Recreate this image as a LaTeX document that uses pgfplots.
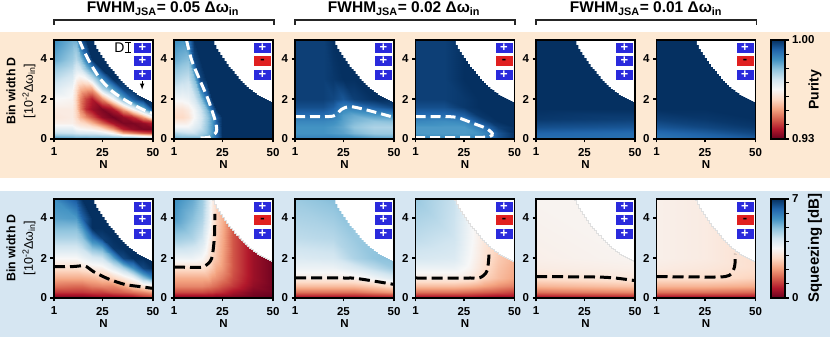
\documentclass[border=0pt]{standalone}
\usepackage{fontspec}
\setmainfont{Liberation Sans}
\usepackage{pgfplots}
\usepackage{pgfplotstable}
\pgfplotsset{compat=1.18}
\definecolor{bgo}{RGB}{253,233,211}
\definecolor{bgb}{RGB}{214,230,242}
\definecolor{bb}{RGB}{42,42,220}
\definecolor{br}{RGB}{224,32,32}
\pgfplotsset{colormap={rdbu}{rgb255=(103,0,31) rgb255=(178,24,43) rgb255=(214,96,77) rgb255=(244,165,130) rgb255=(253,219,199) rgb255=(247,247,247) rgb255=(209,229,240) rgb255=(146,197,222) rgb255=(67,147,195) rgb255=(33,102,172) rgb255=(5,48,97)}}
\newcommand{\fs}[1]{\fontsize{#1}{#1}\selectfont}
\pgfplotsset{
  hm/.style={scale only axis,width=99pt,height=99pt,anchor=south west,
    xmin=1,xmax=50,ymin=0,ymax=4.95,
    xtick={1,25,50},xticklabels={1,25,50},ytick={0,2,4},yticklabels={0,2,4},
    tick align=outside,xtick pos=bottom,ytick pos=left,major tick length=3.5pt,
    tick style={black,line width=1.1pt},axis line style={line width=1.4pt},
    axis on top,colormap name=rdbu,
    tick label style={font=\fs{11.5}\bfseries},
    xticklabel style={yshift=-2pt},
    xlabel={N},xlabel style={font=\fs{11.5}\bfseries,yshift=2pt}},
  pur/.style={hm,point meta min=0.93,point meta max=1},
  sqz/.style={hm,point meta min=0,point meta max=7},
  wd/.style={white,line width=3pt,dash pattern=on 10pt off 5pt,smooth},
  kd/.style={black,line width=3pt,dash pattern=on 11pt off 5pt,smooth}}
\tikzset{badge/.style={minimum width=17pt,minimum height=10pt,inner sep=0pt,font=\fs{13}\bfseries}}
\newcommand{\hmap}[2]{\addplot[surf,shader=interp,mesh/cols=#2,point meta=explicit] table[x=N,y=D,meta=c]{#1};}
\newcommand{\whitep}{\addplot[fill=white,draw=none,const plot] table {\bnd} -- cycle;}
\newcommand{\whiteg}{\addplot[fill=white,draw=black!12,line width=0.3pt,const plot] table {\bnd} -- cycle;}
\newcommand{\bdgp}{%
  \node[badge,fill=bb,text=white] at (rel axis cs:0.894,0.924) {+};
  \node[badge,fill=bb,text=white] at (rel axis cs:0.894,0.788) {+};
  \node[badge,fill=bb,text=white] at (rel axis cs:0.894,0.646) {+};}
\newcommand{\bdgm}{%
  \node[badge,fill=bb,text=white] at (rel axis cs:0.894,0.924) {+};
  \node[badge,fill=br,text=black] at (rel axis cs:0.894,0.788) {-};
  \node[badge,fill=bb,text=white] at (rel axis cs:0.894,0.646) {+};}

% white corner, the same in every panel
\pgfplotstableread{
N D
19.5 5.2
20 4.9
21 4.7
22 4.5
23 4.35
24 4.2
25 4.05
26 3.9
27 3.75
28 3.6
29 3.5
30 3.4
31 3.25
32 3.15
33 3.0
34 2.9
35 2.8
36 2.7
37 2.6
38 2.5
39 2.45
40 2.35
41 2.3
42 2.2
43 2.15
44 2.1
45 2.05
46 2
47 1.95
48 1.9
49 1.85
50 1.78
51 1.7
51 5.2
}\bnd

% purity, FWHM 0.05, +++
\pgfplotstableread[row sep=\\]{N D c\\
1 0 .987\\10 0 .987\\12 0 .987\\14 0 .987\\17 0 .987\\20 0 .987\\25 0 .987\\30 0 .987\\35 0 .987\\40 0 .987\\45 0 .987\\50 0 .985\\
1 .1 .983\\10 .1 .982\\12 .1 .981\\14 .1 .981\\17 .1 .981\\20 .1 .98\\25 .1 .98\\30 .1 .979\\35 .1 .977\\40 .1 .976\\45 .1 .972\\50 .1 .969\\
1 .3 .974\\10 .3 .973\\12 .3 .972\\14 .3 .971\\17 .3 .971\\20 .3 .971\\25 .3 .969\\30 .3 .964\\35 .3 .952\\40 .3 .948\\45 .3 .944\\50 .3 .942\\
1 .5 .969\\10 .5 .969\\12 .5 .966\\14 .5 .965\\17 .5 .964\\20 .5 .963\\25 .5 .959\\30 .5 .95\\35 .5 .938\\40 .5 .934\\45 .5 .932\\50 .5 .932\\
1 .8 .963\\10 .8 .963\\12 .8 .961\\14 .8 .959\\17 .8 .957\\20 .8 .953\\25 .8 .945\\30 .8 .936\\35 .8 .932\\40 .8 .932\\45 .8 .934\\50 .8 .938\\
1 1.1 .961\\10 1.1 .962\\12 1.1 .958\\14 1.1 .953\\17 1.1 .948\\20 1.1 .943\\25 1.1 .934\\30 1.1 .931\\35 1.1 .934\\40 1.1 .939\\45 1.1 .95\\50 1.1 .965\\
1 1.5 .962\\10 1.5 .962\\12 1.5 .957\\14 1.5 .948\\17 1.5 .939\\20 1.5 .935\\25 1.5 .932\\30 1.5 .937\\35 1.5 .951\\40 1.5 .965\\45 1.5 .98\\50 1.5 .997\\
1 2 .965\\10 2 .964\\12 2 .957\\14 2 .948\\17 2 .941\\20 2 .937\\25 2 .948\\30 2 .965\\35 2 .983\\40 2 .994\\45 2 1\\50 2 1\\
1 2.5 .97\\10 2.5 .966\\12 2.5 .959\\14 2.5 .953\\17 2.5 .951\\20 2.5 .951\\25 2.5 .974\\30 2.5 .985\\35 2.5 .997\\40 2.5 1\\45 2.5 1\\50 2.5 1\\
1 3 .974\\10 3 .97\\12 3 .964\\14 3 .962\\17 3 .964\\20 3 .972\\25 3 .987\\30 3 1\\35 3 1\\40 3 1\\45 3 1\\50 3 1\\
1 3.5 .978\\10 3.5 .974\\12 3.5 .97\\14 3.5 .971\\17 3.5 .979\\20 3.5 .987\\25 3.5 1\\30 3.5 1\\35 3.5 1\\40 3.5 1\\45 3.5 1\\50 3.5 1\\
1 4 .983\\10 4 .978\\12 4 .975\\14 4 .979\\17 4 .99\\20 4 1\\25 4 1\\30 4 1\\35 4 1\\40 4 1\\45 4 1\\50 4 1\\
1 4.95 .987\\10 4.95 .982\\12 4.95 .982\\14 4.95 .995\\17 4.95 1\\20 4.95 1\\25 4.95 1\\30 4.95 1\\35 4.95 1\\40 4.95 1\\45 4.95 1\\50 4.95 1\\
}\pa
% purity, FWHM 0.05, +-+
\pgfplotstableread[row sep=\\]{N D c\\
1 0 .986\\5 0 .986\\8 0 .986\\11 0 .986\\14 0 .986\\17 0 .986\\20 0 .99\\22 0 .993\\25 0 1\\50 0 1\\
1 .1 .981\\5 .1 .98\\8 .1 .98\\11 .1 .98\\14 .1 .98\\17 .1 .983\\20 .1 .987\\22 .1 .992\\25 .1 1\\50 .1 1\\
1 .3 .976\\5 .3 .974\\8 .3 .973\\11 .3 .973\\14 .3 .976\\17 .3 .979\\20 .3 .985\\22 .3 .992\\25 .3 1\\50 .3 1\\
1 .6 .966\\5 .6 .966\\8 .6 .966\\11 .6 .969\\14 .6 .972\\17 .6 .978\\20 .6 .985\\22 .6 .992\\25 .6 1\\50 .6 1\\
1 1.1 .958\\5 1.1 .958\\8 1.1 .96\\11 1.1 .965\\14 1.1 .97\\17 1.1 .977\\20 1.1 .985\\22 1.1 .994\\25 1.1 1\\50 1.1 1\\
1 1.5 .96\\5 1.5 .96\\8 1.5 .962\\11 1.5 .966\\14 1.5 .972\\17 1.5 .98\\20 1.5 .993\\22 1.5 1\\25 1.5 1\\50 1.5 1\\
1 2 .966\\5 2 .966\\8 2 .967\\11 2 .971\\14 2 .978\\17 2 .99\\20 2 1\\22 2 1\\25 2 1\\50 2 1\\
1 3 .976\\5 3 .974\\8 3 .973\\11 3 .98\\14 3 .997\\17 3 1\\20 3 1\\22 3 1\\25 3 1\\50 3 1\\
1 4 .983\\5 4 .981\\8 4 .98\\11 4 .997\\14 4 1\\17 4 1\\20 4 1\\22 4 1\\25 4 1\\50 4 1\\
1 4.95 .987\\5 4.95 .986\\8 4.95 .99\\11 4.95 1\\14 4.95 1\\17 4.95 1\\20 4.95 1\\22 4.95 1\\25 4.95 1\\50 4.95 1\\
}\pb
% purity, FWHM 0.02, +++
\pgfplotstableread[row sep=\\]{N D c\\
1 0 .991\\15 0 .991\\20 0 .991\\25 0 .991\\30 0 .991\\40 0 .99\\50 0 .988\\
1 .1 .988\\15 .1 .988\\20 .1 .988\\25 .1 .987\\30 .1 .986\\40 .1 .983\\50 .1 .982\\
1 .3 .986\\15 .3 .986\\20 .3 .985\\25 .3 .984\\30 .3 .981\\40 .3 .978\\50 .3 .978\\
1 .6 .986\\15 .6 .986\\20 .6 .985\\25 .6 .983\\30 .6 .979\\40 .6 .976\\50 .6 .976\\
1 .9 .988\\15 .9 .988\\20 .9 .987\\25 .9 .984\\30 .9 .981\\40 .9 .979\\50 .9 .98\\
1 1.2 .992\\15 1.2 .992\\20 1.2 .99\\25 1.2 .985\\30 1.2 .983\\40 1.2 .985\\50 1.2 .987\\
1 1.6 .996\\15 1.6 .996\\20 1.6 .994\\25 1.6 .989\\30 1.6 .99\\40 1.6 .994\\50 1.6 .997\\
1 2 .998\\15 2 .998\\20 2 .997\\25 2 .995\\30 2 .998\\40 2 1\\50 2 1\\
1 3 .998\\15 3 .998\\20 3 .999\\25 3 1\\30 3 1\\40 3 1\\50 3 1\\
1 4.95 .998\\15 4.95 .998\\20 4.95 1\\25 4.95 1\\30 4.95 1\\40 4.95 1\\50 4.95 1\\
}\pc
% purity, FWHM 0.02, +-+
\pgfplotstableread[row sep=\\]{N D c\\
1 0 .992\\15 0 .992\\25 0 .992\\32 0 .993\\38 0 .995\\42 0 .997\\50 0 1\\
1 .1 .988\\15 .1 .987\\25 .1 .987\\32 .1 .988\\38 .1 .991\\42 .1 .995\\50 .1 1\\
1 .3 .985\\15 .3 .985\\25 .3 .985\\32 .3 .986\\38 .3 .99\\42 .3 .995\\50 .3 1\\
1 .6 .985\\15 .6 .985\\25 .6 .985\\32 .6 .989\\38 .6 .994\\42 .6 .998\\50 .6 1\\
1 .9 .988\\15 .9 .987\\25 .9 .988\\32 .9 .995\\38 .9 .999\\42 .9 1\\50 .9 1\\
1 1.2 .992\\15 1.2 .992\\25 1.2 .994\\32 1.2 .999\\38 1.2 1\\42 1.2 1\\50 1.2 1\\
1 1.6 .996\\15 1.6 .996\\25 1.6 .999\\32 1.6 1\\38 1.6 1\\42 1.6 1\\50 1.6 1\\
1 2 .998\\15 2 .998\\25 2 .999\\32 2 1\\38 2 1\\42 2 1\\50 2 1\\
1 3 .998\\15 3 .998\\25 3 1\\32 3 1\\38 3 1\\42 3 1\\50 3 1\\
1 4.95 .998\\15 4.95 .998\\25 4.95 1\\32 4.95 1\\38 4.95 1\\42 4.95 1\\50 4.95 1\\
}\pd
% purity, FWHM 0.01, +++
\pgfplotstableread[row sep=\\]{N D c\\
1 0 .991\\50 0 .991\\
1 .3 .993\\50 .3 .992\\
1 .6 .996\\50 .6 .995\\
1 1 .999\\50 1 .998\\
1 1.5 1\\50 1.5 1\\
1 4.95 1\\50 4.95 1\\
}\pe
% purity, FWHM 0.01, +-+
\pgfplotstableread[row sep=\\]{N D c\\
1 0 .99\\25 0 .992\\50 0 .994\\
1 .3 .992\\25 .3 .994\\50 .3 .997\\
1 .6 .995\\25 .6 .997\\50 .6 .999\\
1 1 .998\\25 1 .999\\50 1 1\\
1 1.5 1\\25 1.5 1\\50 1.5 1\\
1 4.95 1\\25 4.95 1\\50 4.95 1\\
}\pf
% squeezing, FWHM 0.05, +++
\pgfplotstableread[row sep=\\]{N D c\\
1 0 .1\\12 0 .1\\15 0 .1\\20 0 .1\\25 0 .2\\30 0 .3\\35 0 .4\\40 0 .5\\45 0 .6\\50 0 .8\\
1 .1 .4\\12 .1 .4\\15 .1 .4\\20 .1 .5\\25 .1 .6\\30 .1 .6\\35 .1 .7\\40 .1 .8\\45 .1 1.1\\50 .1 1.3\\
1 .3 1\\12 .3 1\\15 .3 1\\20 .3 1.1\\25 .3 1.1\\30 .3 1.3\\35 .3 1.4\\40 .3 1.6\\45 .3 1.8\\50 .3 2.1\\
1 .6 1.6\\12 .6 1.5\\15 .6 1.5\\20 .6 1.7\\25 .6 1.8\\30 .6 1.8\\35 .6 2.1\\40 .6 2.6\\45 .6 3\\50 .6 3.3\\
1 1 2.2\\12 1 2.2\\15 1 2.2\\20 1 2.3\\25 1 2.5\\30 1 2.7\\35 1 3.1\\40 1 3.6\\45 1 4.8\\50 1 5.7\\
1 1.5 2.9\\12 1.5 2.9\\15 1.5 3\\20 1.5 3.2\\25 1.5 3.3\\30 1.5 3.9\\35 1.5 4.6\\40 1.5 5.6\\45 1.5 6.7\\50 1.5 7\\
1 2 3.5\\12 2 3.5\\15 2 3.7\\20 2 4\\25 2 4.2\\30 2 5.3\\35 2 6.7\\40 2 7\\45 2 7\\50 2 7\\
1 2.5 4.1\\12 2.5 4.1\\15 2.5 4.3\\20 2.5 5\\25 2.5 5.3\\30 2.5 6.9\\35 2.5 7\\40 2.5 7\\45 2.5 7\\50 2.5 7\\
1 3 4.6\\12 3 4.6\\15 3 4.9\\20 3 6\\25 3 6.8\\30 3 7\\35 3 7\\40 3 7\\45 3 7\\50 3 7\\
1 3.5 5\\12 3.5 5\\15 3.5 5.5\\20 3.5 7\\25 3.5 7\\30 3.5 7\\35 3.5 7\\40 3.5 7\\45 3.5 7\\50 3.5 7\\
1 4 5.4\\12 4 5.5\\15 4 6.3\\20 4 7\\25 4 7\\30 4 7\\35 4 7\\40 4 7\\45 4 7\\50 4 7\\
1 4.95 5.7\\12 4.95 6.5\\15 4.95 7\\20 4.95 7\\25 4.95 7\\30 4.95 7\\35 4.95 7\\40 4.95 7\\45 4.95 7\\50 4.95 7\\
}\sa
% squeezing, FWHM 0.05, +-+
\pgfplotstableread[row sep=\\]{N D c\\
1 0 .2\\10 0 .2\\15 0 .2\\18 0 .2\\20 0 .2\\22 0 .2\\25 0 .2\\30 0 .1\\40 0 0\\50 0 0\\
1 .1 .5\\10 .1 .5\\15 .1 .5\\18 .1 .5\\20 .1 .5\\22 .1 .4\\25 .1 .4\\30 .1 .3\\40 .1 .1\\50 .1 0\\
1 .3 1.2\\10 .3 1.2\\15 .3 1.2\\18 .3 1.1\\20 .3 1.1\\22 .3 1\\25 .3 .9\\30 .3 .6\\40 .3 .2\\50 .3 .1\\
1 .6 1.8\\10 .6 1.8\\15 .6 1.8\\18 .6 1.7\\20 .6 1.6\\22 .6 1.5\\25 .6 1.3\\30 .6 1\\40 .6 .4\\50 .6 .1\\
1 1 2.2\\10 1 2.2\\15 1 2.2\\18 1 2.2\\20 1 2\\22 1 1.9\\25 1 1.7\\30 1 1.2\\40 1 .5\\50 1 .1\\
1 1.5 2.9\\10 1.5 2.9\\15 1.5 2.9\\18 1.5 2.7\\20 1.5 2.5\\22 1.5 2.2\\25 1.5 2\\30 1.5 1.3\\40 1.5 .5\\50 1.5 .1\\
1 2 3.7\\10 2 3.7\\15 2 3.5\\18 2 3.1\\20 2 2.7\\22 2 2.5\\25 2 2.1\\30 2 1.3\\40 2 .5\\50 2 .1\\
1 3 4.8\\10 3 4.6\\15 3 4.2\\18 3 3.5\\20 3 3\\22 3 2.6\\25 3 2.2\\30 3 1.3\\40 3 .5\\50 3 .1\\
1 4 5.5\\10 4 5\\15 4 4.6\\18 4 3.9\\20 4 3.2\\22 4 2.7\\25 4 2.3\\30 4 1.3\\40 4 .5\\50 4 .1\\
1 4.95 5.7\\10 4.95 5.3\\15 4.95 4.8\\18 4.95 4\\20 4.95 3.3\\22 4.95 2.7\\25 4.95 2.3\\30 4.95 1.3\\40 4.95 .5\\50 4.95 .1\\
}\sb
% squeezing, FWHM 0.02, +++
\pgfplotstableread[row sep=\\]{N D c\\
1 0 .3\\20 0 .3\\30 0 .3\\40 0 .4\\50 0 .6\\
1 .1 .8\\20 .1 .8\\30 .1 .8\\40 .1 .9\\50 .1 1\\
1 .3 1.6\\20 .3 1.6\\30 .3 1.6\\40 .3 1.8\\50 .3 2\\
1 .6 2.4\\20 .6 2.4\\30 .6 2.4\\40 .6 2.6\\50 .6 2.9\\
1 1 3.2\\20 1 3.2\\30 1 3.3\\40 1 3.6\\50 1 4\\
1 1.5 3.7\\20 1.5 3.7\\30 1.5 4\\40 1.5 4.4\\50 1.5 4.8\\
1 2 4\\20 2 4.1\\30 2 4.6\\40 2 4.9\\50 2 5\\
1 3 4.4\\20 3 4.5\\30 3 4.8\\40 3 4.9\\50 3 4.9\\
1 4.95 4.8\\20 4.95 5\\30 4.95 4.9\\40 4.95 4.9\\50 4.95 4.9\\
}\scc
% squeezing, FWHM 0.02, +-+
\pgfplotstableread[row sep=\\]{N D c\\
1 0 .3\\20 0 .3\\28 0 .3\\35 0 .3\\42 0 .3\\50 0 .2\\
1 .1 .8\\20 .1 .8\\28 .1 .8\\35 .1 .7\\42 .1 .6\\50 .1 .6\\
1 .3 1.6\\20 .3 1.6\\28 .3 1.5\\35 .3 1.4\\42 .3 1.3\\50 .3 1.1\\
1 .6 2.4\\20 .6 2.4\\28 .6 2.3\\35 .6 2.1\\42 .6 1.9\\50 .6 1.7\\
1 1 3.2\\20 1 3.2\\28 1 3.1\\35 1 2.7\\42 1 2.4\\50 1 2.1\\
1 1.5 3.7\\20 1.5 3.7\\28 1.5 3.4\\35 1.5 2.9\\42 1.5 2.5\\50 1.5 2.2\\
1 2 4.1\\20 2 4\\28 2 3.5\\35 2 3\\42 2 2.6\\50 2 2.3\\
1 3 4.4\\20 3 4.2\\28 3 3.6\\35 3 3.1\\42 3 2.7\\50 3 2.4\\
1 4.95 4.8\\20 4.95 4.3\\28 4.95 3.6\\35 4.95 3.1\\42 4.95 2.7\\50 4.95 2.4\\
}\sd
% squeezing, FWHM 0.01, +++
\pgfplotstableread[row sep=\\]{N D c\\
1 0 .4\\50 0 .5\\
1 .1 .8\\50 .1 1\\
1 .3 1.6\\50 .3 1.8\\
1 .6 2.3\\50 .6 2.5\\
1 1 2.9\\50 1 3.1\\
1 1.5 3.2\\50 1.5 3.3\\
1 2 3.3\\50 2 3.4\\
1 4.95 3.4\\50 4.95 3.4\\
}\se
% squeezing, FWHM 0.01, +-+
\pgfplotstableread[row sep=\\]{N D c\\
1 0 .4\\25 0 .4\\50 0 .4\\
1 .1 .8\\25 .1 .8\\50 .1 .8\\
1 .3 1.6\\25 .3 1.6\\50 .3 1.5\\
1 .6 2.3\\25 .6 2.3\\50 .6 2.2\\
1 1 2.9\\25 1 2.9\\50 1 2.7\\
1 1.5 3.2\\25 1.5 3.1\\50 1.5 2.9\\
1 2 3.3\\25 2 3.2\\50 2 2.9\\
1 4.95 3.3\\25 4.95 3.2\\50 4.95 2.9\\
}\sf

\begin{document}
\begin{tikzpicture}[x=1pt,y=1pt]
\path[use as bounding box] (0,0) rectangle (830,337);
\fill[bgo] (0,159) rectangle (830,305);
\fill[bgb] (0,0) rectangle (830,146.3);

% group brackets and titles
\draw[line width=1.3pt,black!85] (54,312) -- (54,317) -- (274,317) -- (274,312);
\draw[line width=1.3pt,black!85] (295,312) -- (295,317) -- (515,317) -- (515,312);
\draw[line width=1.3pt,black!85] (536,312) -- (536,317) -- (756.5,317) -- (756.5,312);
\node[anchor=base,font=\fs{15.5}\bfseries] at (163,324) {FWHM\textsubscript{JSA}= 0.05 Δω\textsubscript{in}};
\node[anchor=base,font=\fs{15.5}\bfseries] at (404,324) {FWHM\textsubscript{JSA}= 0.02 Δω\textsubscript{in}};
\node[anchor=base,font=\fs{15.5}\bfseries] at (646,324) {FWHM\textsubscript{JSA}= 0.01 Δω\textsubscript{in}};

% y labels
\node[rotate=90,font=\fs{12.3}\bfseries] at (11,246) {Bin width D};
\node[rotate=90,font=\fs{12.5}] at (29,246) {[10\textsuperscript{-2}Δω\textsubscript{in}]};
\node[rotate=90,font=\fs{12.3}\bfseries] at (11,89) {Bin width D};
\node[rotate=90,font=\fs{12.5}] at (29,89) {[10\textsuperscript{-2}Δω\textsubscript{in}]};

% purity row
\begin{axis}[pur,at={(54pt,198pt)}]
\hmap{\pa}{12}
\whitep
\addplot[wd] coordinates {(13.5,4.95) (15.5,4.48) (19,3.78) (23.8,3.02) (29.9,2.38) (37.8,1.85) (45.5,1.45) (50,1.27)};
\bdgp
\node[font=\fs{14}] at (rel axis cs:0.66,0.925) {D};
\draw[line width=0.9pt] (rel axis cs:0.747,0.973) -- (rel axis cs:0.747,0.879) (rel axis cs:0.717,0.973) -- (rel axis cs:0.777,0.973) (rel axis cs:0.717,0.879) -- (rel axis cs:0.777,0.879);
\draw[-latex,line width=1pt] (rel axis cs:0.89,0.585) -- (rel axis cs:0.89,0.5);
\end{axis}
\begin{axis}[pur,at={(174pt,198pt)}]
\hmap{\pb}{10}
\whitep
\addplot[wd] coordinates {(7.2,4.95) (9.7,3.95) (13.8,2.95) (18,1.95) (21.5,.87) (22,.37) (18.8,.1) (14,.05)};
\bdgm
\end{axis}
\begin{axis}[pur,at={(295pt,198pt)}]
\hmap{\pc}{7}
\whitep
\addplot[wd] coordinates {(1,1.12) (10,1.12) (20,1.15) (24,1.48) (28.3,1.62) (36.5,1.45) (50,1.08)};
\bdgp
\end{axis}
\begin{axis}[pur,at={(415.5pt,198pt)}]
\hmap{\pd}{7}
\whitep
\addplot[wd] coordinates {(1,1.12) (14,1.12) (21.4,1.08) (29.6,.78) (36,.53) (39,.28) (37.8,.12) (31,.08) (1,.07)};
\bdgm
\end{axis}
\begin{axis}[pur,at={(536pt,198pt)}]
\hmap{\pe}{2}
\whitep
\bdgp
\end{axis}
\begin{axis}[pur,at={(656.5pt,198pt)}]
\hmap{\pf}{3}
\whitep
\bdgm
\end{axis}

% squeezing row
\begin{axis}[sqz,at={(54pt,39pt)}]
\hmap{\sa}{10}
\whitep
\addplot[kd] coordinates {(1,1.57) (10,1.57) (16.3,1.6) (20.5,1.32) (28,.95) (36,.68) (43.5,.57) (50,.48)};
\bdgp
\end{axis}
\begin{axis}[sqz,at={(174pt,39pt)}]
\hmap{\sb}{10}
\whiteg
\addplot[kd] coordinates {(1,1.55) (13,1.53) (16.3,1.6) (19.6,1.97) (21,3.05) (21.2,4.2)};
\bdgm
\end{axis}
\begin{axis}[sqz,at={(295pt,39pt)}]
\hmap{\scc}{5}
\whitep
\addplot[kd] coordinates {(1,1) (25,1) (32,.97) (50,.68)};
\bdgp
\end{axis}
\begin{axis}[sqz,at={(415.5pt,39pt)}]
\hmap{\sd}{6}
\whiteg
\addplot[kd] coordinates {(1,1) (28,1) (33,1.02) (36.5,1.38) (37.5,2.38)};
\bdgm
\end{axis}
\begin{axis}[sqz,at={(536pt,39pt)}]
\hmap{\se}{2}
\whiteg
\addplot[kd] coordinates {(1,1.07) (30,1.05) (40,1) (50,.87)};
\bdgp
\end{axis}
\begin{axis}[sqz,at={(656.5pt,39pt)}]
\hmap{\sf}{3}
\whiteg
\addplot[kd] coordinates {(1,1.07) (30,1.05) (37,1.13) (39.6,1.55) (40,2.2)};
\bdgm
\end{axis}

% colour bars
\begin{axis}[scale only axis,width=14pt,height=99pt,anchor=south west,at={(771pt,198pt)},
  xmin=0,xmax=1,ymin=0.93,ymax=1,xtick=\empty,
  ytick={.93,.94,.95,.96,.97,.98,.99,1},yticklabels={0.93,,,,,,,1.00},
  ytick pos=right,yticklabel pos=right,tick align=outside,major tick length=3.5pt,
  tick style={black,line width=1.1pt},axis line style={line width=1.4pt},axis on top,
  colormap name=rdbu,point meta min=0.93,point meta max=1,
  tick label style={font=\fs{11.5}\bfseries}]
\addplot[surf,shader=interp,mesh/cols=2,point meta=explicit] table[row sep=\\,x=a,y=b,meta=c]{a b c\\0 .93 .93\\1 .93 .93\\0 .965 .965\\1 .965 .965\\0 1 1\\1 1 1\\};
\end{axis}
\begin{axis}[scale only axis,width=14pt,height=99pt,anchor=south west,at={(771pt,39pt)},
  xmin=0,xmax=1,ymin=0,ymax=7,xtick=\empty,
  ytick={0,1,2,3,4,5,6,7},yticklabels={0,,,,,,,7},
  ytick pos=right,yticklabel pos=right,tick align=outside,major tick length=3.5pt,
  tick style={black,line width=1.1pt},axis line style={line width=1.4pt},axis on top,
  colormap name=rdbu,point meta min=0,point meta max=7,
  tick label style={font=\fs{11.5}\bfseries}]
\addplot[surf,shader=interp,mesh/cols=2,point meta=explicit] table[row sep=\\,x=a,y=b,meta=c]{a b c\\0 0 0\\1 0 0\\0 3.5 3.5\\1 3.5 3.5\\0 7 7\\1 7 7\\};
\end{axis}
\node[rotate=90,font=\fs{14}\bfseries] at (815,247) {Purity};
\node[rotate=90,font=\fs{15}\bfseries] at (815,89) {Squeezing [dB]};
\end{tikzpicture}
\end{document}
